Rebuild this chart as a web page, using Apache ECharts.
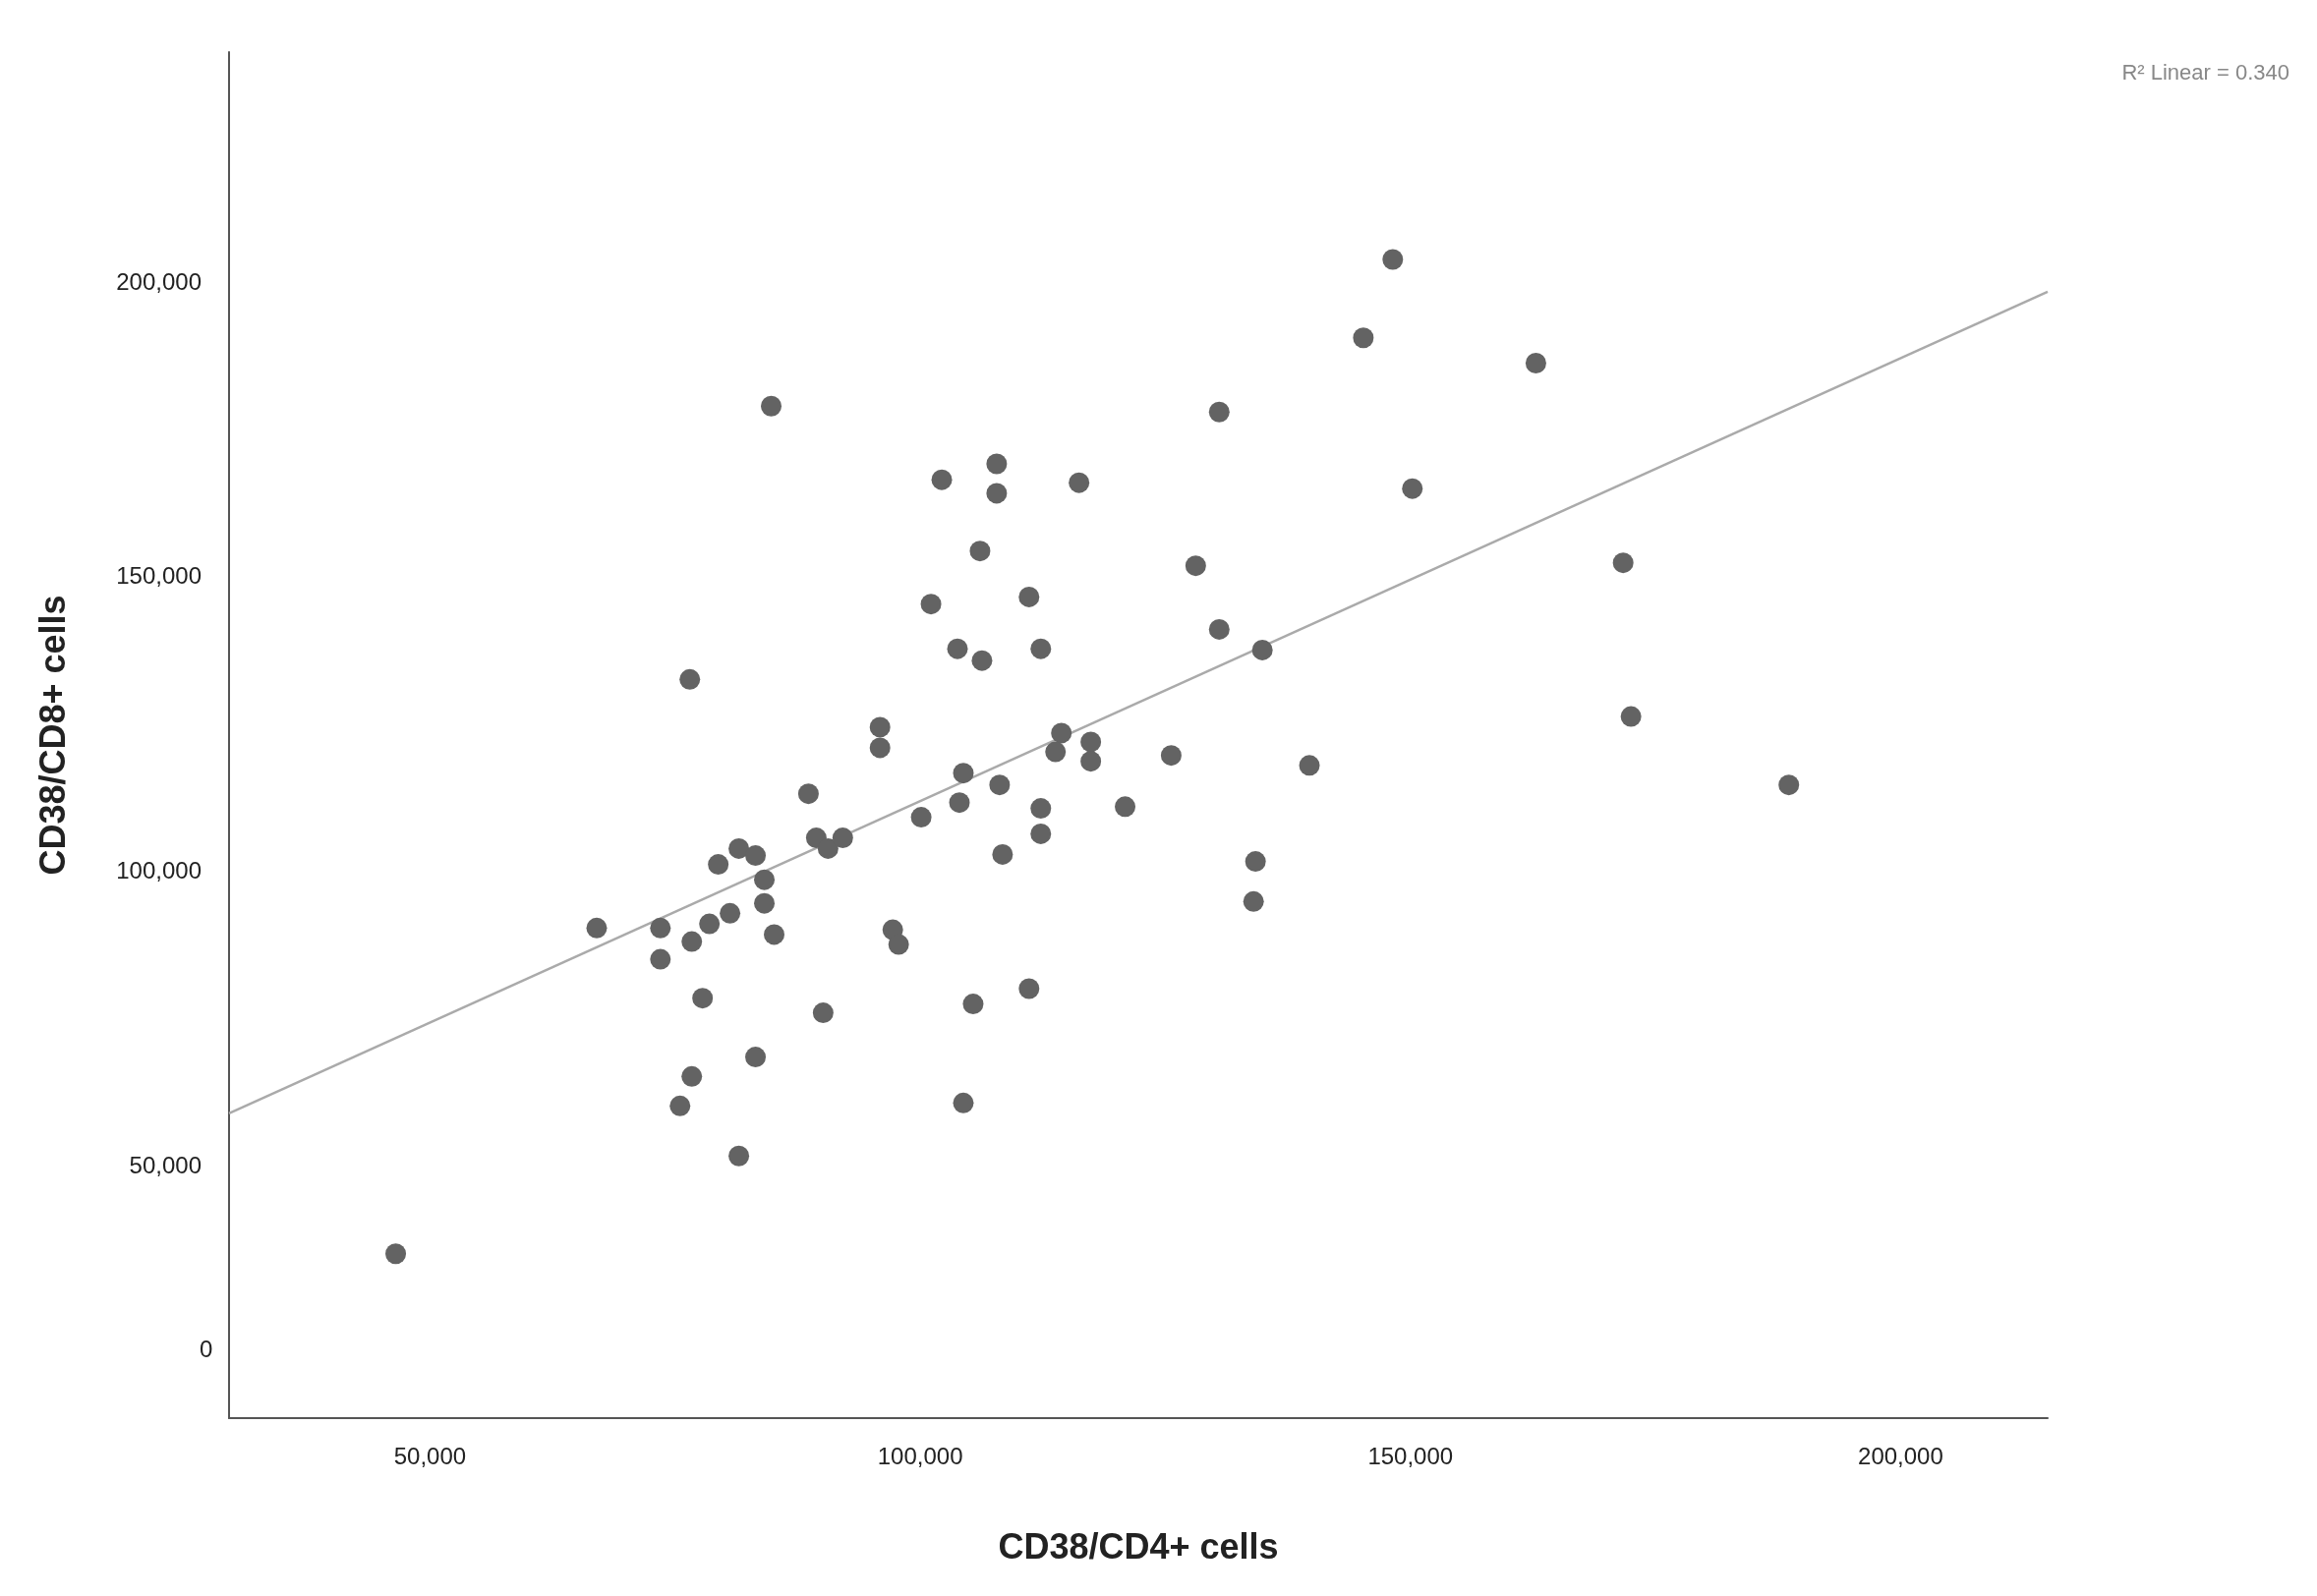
<!DOCTYPE html>
<html>
<head>
<meta charset="utf-8">
<script src="https://cdn.jsdelivr.net/npm/echarts@6/dist/echarts.min.js"></script>
<style>html,body{margin:0;background:#fff}#chart{width:2357px;height:1624px}</style>
</head>
<body>
<div id="chart"></div>
<script>
// CD38/CD4+ (x) vs CD38/CD8+ (y)
var cd4 = [46500,67000,73500,73500,76500,76700,77800,76700,75500,78500,79400,80600,81500,83200,84100,84100,85100,83200,81500,84800,
  88600,89400,90600,92100,90100,95900,95900,97200,97800,100100,101100,102200,103800,104000,104400,104400,105400,106300,106100,107800,
  107800,108100,108400,111100,111100,112300,112300,112300,113800,114400,116200,117400,117400,120900,125600,128100,130500,130500,134200,134000,
  134900,139700,145200,148200,150200,162800,171700,172500,188600];
var cd8 = [35200,90500,90500,85200,132700,88200,78600,65300,60300,91200,101300,93000,104000,102800,98700,94700,89400,68600,51800,179100,
  113300,105800,104000,105800,76100,124600,121100,90200,87700,109300,145500,166600,137900,111800,116800,60800,77600,135900,154500,169300,
  164300,114800,103000,146700,80200,137900,110800,106500,120400,123600,166100,122100,118800,111100,119800,152000,178100,141200,101800,95000,
  137700,118100,190700,204000,165100,186400,152500,126400,114800];
// fit line end points
var fitX = [29500, 215000];
var fitY = [59050, 198500];
var xTicks = [50000, 100000, 150000, 200000];
var yTicks = [50000, 100000, 150000, 200000];

var fmt = function (v) { return v.toLocaleString('en-US'); };
var chart = echarts.init(document.getElementById('chart'));
chart.setOption({
  animation: false,
  grid: { left: 233, top: 53, width: 1850, height: 1390 },
  xAxis: {
    type: 'value', min: 29500, max: 215000,
    name: 'CD38/CD4+ cells', nameLocation: 'middle', nameGap: 115,
    nameTextStyle: { fontFamily: 'Liberation Sans', fontWeight: 'bold', fontSize: 36, color: '#222' },
    axisLine: { show: true, lineStyle: { color: '#555', width: 2 } },
    axisTick: { show: false },
    splitLine: { show: false },
    axisLabel: { customValues: xTicks, formatter: fmt, fontSize: 24, color: '#222', margin: 28, fontFamily: 'Liberation Sans' }
  },
  yAxis: {
    type: 'value', min: 7300, max: 239200,
    name: 'CD38/CD8+ cells', nameLocation: 'middle', nameGap: 159,
    nameTextStyle: { fontFamily: 'Liberation Sans', fontWeight: 'bold', fontSize: 36, color: '#222' },
    axisLine: { show: true, lineStyle: { color: '#555', width: 2 } },
    axisTick: { show: false },
    splitLine: { show: false },
    axisLabel: { customValues: yTicks, formatter: fmt, fontSize: 24, color: '#222', margin: 28, fontFamily: 'Liberation Sans' }
  },
  graphic: [
    { type: 'text', left: 203, top: 1362, style: { text: '0', fontSize: 24, fill: '#222', fontFamily: 'Liberation Sans' } },
    { type: 'text', right: 28, top: 64, style: { text: 'R² Linear = 0.340', fontSize: 22, fill: '#888', fontFamily: 'Liberation Sans Narrow, Liberation Sans' } }
  ],
  series: [
    {
      type: 'line', data: fitX.map(function (x, i) { return [x, fitY[i]]; }),
      showSymbol: false, lineStyle: { color: '#aaa', width: 2.5 }, z: 1
    },
    {
      type: 'scatter', data: cd4.map(function (x, i) { return [x, cd8[i]]; }),
      symbolSize: 21, itemStyle: { color: '#636363', opacity: 1 }, z: 2
    }
  ]
});
</script>
</body>
</html>
